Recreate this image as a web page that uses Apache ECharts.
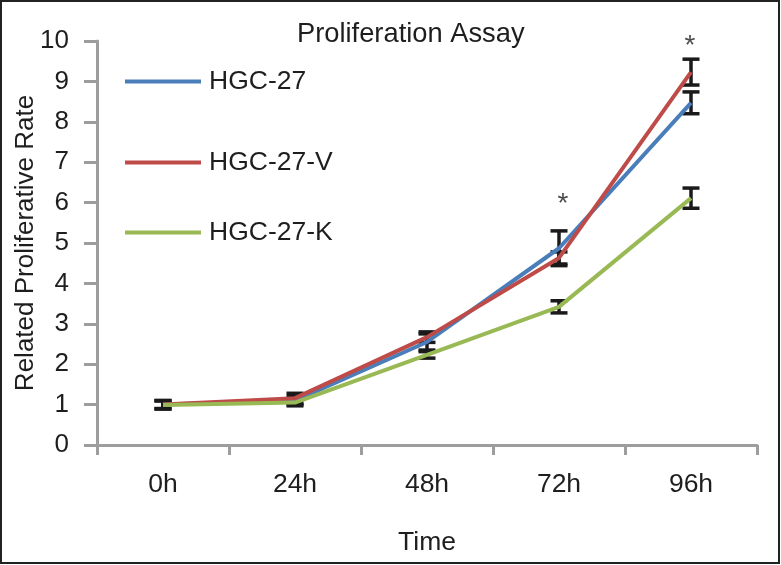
<!DOCTYPE html>
<html>
<head>
<meta charset="utf-8">
<script src="https://cdn.jsdelivr.net/npm/echarts@6/dist/echarts.min.js"></script>
<style>html,body{margin:0;padding:0;background:#fff;}#c{width:781px;height:565px;}</style>
</head>
<body>
<div id="c"></div>
<script>
var categories = ['0h', '24h', '48h', '72h', '96h'];
var seriesNames = ['HGC-27', 'HGC-27-V', 'HGC-27-K'];
var hgc27 = [1.00, 1.10, 2.55, 4.87, 8.47];
var hgc27V = [1.00, 1.16, 2.67, 4.63, 9.23];
var hgc27K = [0.99, 1.05, 2.23, 3.42, 6.11];
var hgc27Err = [0.10, 0.10, 0.20, 0.43, 0.27];
var hgc27VErr = [0.10, 0.12, 0.13, 0.15, 0.32];
var hgc27KErr = [0.10, 0.08, 0.08, 0.15, 0.25];
var yTicks = [0, 1, 2, 3, 4, 5, 6, 7, 8, 9, 10];
var starCats = ['72h', '96h'];
var starValues = [6.06, 9.96];

var colors = ['#4a7ebb', '#be4b48', '#98b954'];
var values = [hgc27, hgc27V, hgc27K];
var errs = [hgc27Err, hgc27VErr, hgc27KErr];
var FONT = '"Liberation Sans", Arial, sans-serif';
var TXT = '#1e1e1e';

var chart = echarts.init(document.getElementById('c'));

function errorRender(params, api) {
  var x = api.value(0);
  var lo = api.coord([x, api.value(1)]);
  var hi = api.coord([x, api.value(2)]);
  var hw = 8.5;
  var st = { stroke: '#1a1a1a', lineWidth: 3.5 };
  return {
    type: 'group',
    children: [
      { type: 'line', shape: { x1: lo[0], y1: lo[1], x2: hi[0], y2: hi[1] }, style: st },
      { type: 'line', shape: { x1: lo[0] - hw, y1: lo[1], x2: lo[0] + hw, y2: lo[1] }, style: st },
      { type: 'line', shape: { x1: hi[0] - hw, y1: hi[1], x2: hi[0] + hw, y2: hi[1] }, style: st }
    ]
  };
}

var series = [];
for (var i = 0; i < 3; i++) {
  var ed = [];
  for (var j = 0; j < categories.length; j++) {
    ed.push([j, values[i][j] - errs[i][j], values[i][j] + errs[i][j]]);
  }
  series.push({
    type: 'custom',
    name: seriesNames[i] + ' err',
    renderItem: errorRender,
    data: ed,
    z: 1,
    silent: true,
    encode: { x: 0, y: [1, 2] }
  });
}
for (var k = 0; k < 3; k++) {
  series.push({
    type: 'line',
    name: seriesNames[k],
    data: values[k],
    symbol: 'none',
    z: 3,
    lineStyle: { color: colors[k], width: 4 },
    itemStyle: { color: colors[k] }
  });
}
var starOffsets = [[4, 4], [-1, 4]];
series.push({
  type: 'scatter',
  name: 'stars',
  symbolSize: 0,
  data: starCats.map(function (c, idx) {
    return {
      value: [categories.indexOf(c), starValues[idx]],
      label: { offset: starOffsets[idx] }
    };
  }),
  label: {
    show: true,
    formatter: '*',
    position: 'inside',
    fontFamily: FONT,
    fontSize: 28,
    color: TXT
  },
  silent: true,
  z: 4
});

var legendTops = [68, 149, 219];
var legends = seriesNames.map(function (n, idx) {
  return {
    data: [n],
    left: 123,
    top: legendTops[idx],
    padding: 0,
    itemWidth: 76,
    itemHeight: 26,
    selectedMode: false,
    itemStyle: { opacity: 0 },
    lineStyle: { width: 4 },
    textStyle: { fontFamily: FONT, fontSize: 26.5, color: TXT, padding: [0, 0, 0, 3] }
  };
});

chart.setOption({
  animation: false,
  backgroundColor: '#fff',
  title: {
    text: 'Proliferation Assay',
    left: 297,
    top: 21,
    padding: 0,
    textStyle: { fontFamily: FONT, fontSize: 27.3, fontWeight: 'normal', color: TXT }
  },
  legend: legends,
  grid: { left: 97, right: 24, top: 41, bottom: 120, containLabel: false },
  xAxis: {
    type: 'category',
    data: categories,
    boundaryGap: true,
    name: 'Time',
    nameLocation: 'middle',
    nameGap: 84,
    nameMoveOverlap: false,
    nameTextStyle: { fontFamily: FONT, fontSize: 26.5, color: TXT },
    axisLine: { lineStyle: { color: '#9d9d9d', width: 3 } },
    axisTick: { show: true, length: 10, alignWithLabel: false, lineStyle: { color: '#9d9d9d', width: 3 } },
    axisLabel: { fontFamily: FONT, fontSize: 26.5, color: TXT, margin: 26 },
    splitLine: { show: false }
  },
  yAxis: {
    type: 'value',
    min: yTicks[0],
    max: yTicks[yTicks.length - 1],
    interval: 1,
    name: 'Related Proliferative Rate',
    nameLocation: 'middle',
    nameGap: 58,
    nameMoveOverlap: false,
    nameTextStyle: { fontFamily: FONT, fontSize: 26, color: TXT },
    axisLine: { show: true, lineStyle: { color: '#9d9d9d', width: 3 } },
    axisTick: { show: true, length: 13, lineStyle: { color: '#9d9d9d', width: 3 } },
    axisLabel: { fontFamily: FONT, fontSize: 26, color: TXT, margin: 28 },
    splitLine: { show: false }
  },
  graphic: [{
    type: 'rect',
    shape: { x: 1, y: 1, width: 778, height: 562 },
    style: { fill: 'none', stroke: '#222', lineWidth: 2 },
    silent: true,
    z: 100
  }],
  series: series
});
</script>
</body>
</html>
